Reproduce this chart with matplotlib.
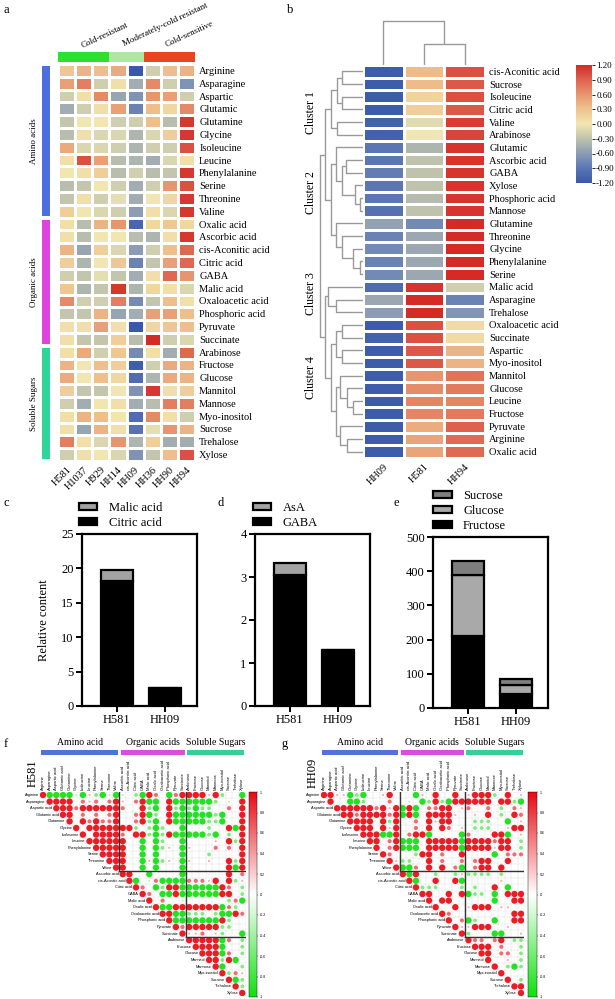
import numpy as np
import matplotlib
matplotlib.use('Agg')
import matplotlib.pyplot as plt
from matplotlib.colors import LinearSegmentedColormap, Normalize
from matplotlib.patches import Patch
import matplotlib.cm as cm

plt.rcParams['font.family'] = ['Liberation Serif', 'DejaVu Serif']

# ---------------- DATA ----------------
a_samples = ['H581', 'H1037', 'H929', 'HH14', 'HH09', 'HH36', 'HH90', 'HH94']
a_groups = ['Cold-resistant'] * 3 + ['Moderately-cold resistant'] * 2 + ['Cold-sensitive'] * 3
a_metabolites = ['Arginine', 'Asparagine', 'Aspartic', 'Glutamic', 'Glutamine', 'Glycine', 'Isoleucine',
                 'Leucine', 'Phenylalanine', 'Serine', 'Threonine', 'Valine', 'Oxalic acid', 'Ascorbic acid',
                 'cis-Aconitic acid', 'Citric acid', 'GABA', 'Malic acid', 'Oxaloacetic acid', 'Phosphoric acid',
                 'Pyruvate', 'Succinate', 'Arabinose', 'Fructose', 'Glucose', 'Mannitol', 'Mannose',
                 'Myo-inositol', 'Sucrose', 'Trehalose', 'Xylose']
a_classes = ['Amino acids'] * 12 + ['Organic acids'] * 10 + ['Soluble Sugars'] * 9
a_values = [
    [0.4, 0.6, 0.5, 0.7, -1.8, -0.3, 0.5, 0.6],
    [0.8, 1.1, -0.3, 0.1, -0.7, 1.0, -0.3, -1.0],
    [-0.3, 0.1, 1.0, -0.8, -1.0, 0.9, 0.8, -0.3],
    [-0.7, -0.3, 0.1, 0.8, -1.2, 0.5, 0.2, 1.0],
    [-0.4, 0.0, 0.0, -0.3, -0.3, 0.5, -0.5, 1.7],
    [-0.5, 0.1, -0.2, -0.2, -0.6, -0.2, 0.3, 1.7],
    [0.7, -0.2, -0.2, -0.3, -0.6, -0.3, -0.3, 1.5],
    [0.1, 1.5, 0.8, -0.5, -0.6, -0.7, -0.2, 0.1],
    [0.0, 0.1, 0.3, -0.5, -0.3, -0.5, -0.4, 1.7],
    [-0.5, -0.4, 0.0, -0.3, -0.7, -0.3, 0.9, 1.5],
    [-0.4, 0.1, -0.3, -0.1, -0.7, 0.0, 0.2, 1.7],
    [0.3, 0.0, -0.2, -0.3, -0.9, 0.1, -0.2, 1.7],
    [0.1, -0.5, 0.6, 0.9, -1.6, 0.2, 0.4, 0.2],
    [0.1, -0.5, 0.0, 0.0, -0.5, -0.6, 0.1, 1.7],
    [0.6, -0.8, 0.3, -0.2, -0.9, -0.3, 0.5, 1.3],
    [0.3, -0.6, 0.0, 0.4, -1.2, -0.4, 0.8, 1.3],
    [-0.3, -0.4, -0.1, -0.4, -0.7, 0.1, 1.3, 0.9],
    [0.4, -0.6, -0.4, 1.7, -0.6, 0.2, 0.1, -0.2],
    [1.0, -0.3, -0.3, 1.1, -1.1, -0.4, 0.5, 0.1],
    [-0.4, -0.4, 0.6, -0.8, -0.7, 0.8, 0.8, 0.5],
    [0.1, 0.1, 0.8, 0.1, -1.8, 0.2, 0.4, 0.5],
    [0.1, -0.4, -0.4, 0.3, -0.5, 1.8, -0.3, -0.2],
    [0.1, 0.7, -0.3, 0.4, -1.1, 0.1, -0.7, 1.3],
    [0.6, 0.0, 0.5, 0.3, -1.7, -0.3, 0.7, 0.6],
    [0.7, 0.0, 0.5, 0.2, -1.5, -0.6, 0.7, 0.6],
    [0.3, -0.4, -0.4, 0.0, -1.0, 1.7, 0.1, 0.3],
    [-0.3, -0.7, 0.0, 0.1, -0.7, -0.5, 1.1, 1.1],
    [0.1, 0.6, 0.5, 0.0, -1.5, 1.0, 0.1, -0.3],
    [0.1, -0.8, 0.6, 0.1, -1.4, -0.1, 0.9, 0.6],
    [1.1, 0.1, -0.2, 0.9, -0.6, 0.3, -0.7, -0.7],
    [-0.3, 0.1, 0.0, -0.2, -1.0, -0.4, 0.5, 1.5],
]

b_samples = ['HH09', 'H581', 'HH94']
b_metabolites = ['cis-Aconitic acid', 'Sucrose', 'Isoleucine', 'Citric acid', 'Valine', 'Arabinose',
                 'Glutamic', 'Ascorbic acid', 'GABA', 'Xylose', 'Phosphoric acid', 'Mannose',
                 'Glutamine', 'Threonine', 'Glycine', 'Phenylalanine', 'Serine',
                 'Malic acid', 'Asparagine', 'Trehalose',
                 'Oxaloacetic acid', 'Succinate', 'Aspartic', 'Myo-inositol', 'Mannitol', 'Glucose',
                 'Leucine', 'Fructose', 'Pyruvate', 'Arginine', 'Oxalic acid']
b_values = [
    [-1.15, 0.35, 1.0], [-1.15, 0.35, 0.95], [-1.15, 0.15, 1.0], [-1.15, 0.2, 0.95],
    [-1.1, -0.1, 1.1], [-1.1, 0.0, 1.05],
    [-0.9, -0.4, 1.15], [-0.9, -0.3, 1.15], [-0.85, -0.3, 1.15], [-0.9, -0.3, 1.15],
    [-0.9, -0.35, 1.15], [-0.95, -0.3, 1.15],
    [-0.55, -0.75, 1.2], [-0.8, -0.5, 1.2], [-0.75, -0.5, 1.2], [-0.8, -0.5, 1.2], [-0.75, -0.5, 1.2],
    [-1.0, 1.15, -0.2], [-0.5, 1.2, -0.8], [-0.6, 1.2, -0.65],
    [-1.15, 1.0, 0.1], [-1.1, 1.0, 0.1], [-1.15, 0.95, 0.4], [-1.15, 0.95, 0.4],
    [-1.15, 0.6, 0.8], [-1.15, 0.65, 0.75], [-1.15, 0.7, 0.7], [-1.15, 0.7, 0.75],
    [-1.15, 0.45, 0.9], [-1.15, 0.5, 0.85], [-1.15, 0.5, 0.85],
]
b_clusters = ['Cluster 1', 'Cluster 2', 'Cluster 3', 'Cluster 4']
# hierarchical trees: (merge height, left, right)
b_row_tree = (41,
    (36,
        (31, (25, (20, 'cis-Aconitic acid', 'Sucrose'), (20, 'Isoleucine', 'Citric acid')),
             (25, 'Valine', 'Arabinose')),
        (31, (26, 'Glutamic', (20, (16, 'Ascorbic acid', 'GABA'),
                                   (8, 'Xylose', (3, 'Phosphoric acid', 'Mannose')))),
             (26, 'Glutamine', (20, 'Threonine', (10, 'Glycine', (3, 'Phenylalanine', 'Serine')))))),
    (36,
        (33, 'Malic acid', (26, 'Asparagine', 'Trehalose')),
        (31, (26, (20, 'Oxaloacetic acid', 'Succinate'), (20, 'Aspartic', 'Myo-inositol')),
             (26, (22, 'Mannitol', (15, 'Glucose', (10, 'Leucine', 'Fructose'))),
                  (22, 'Pyruvate', (15, 'Arginine', 'Oxalic acid'))))))
b_col_tree = (42, 'HH09', (20, 'H581', 'HH94'))

bar_samples = ['H581', 'HH09']
citric_acid = [18.2, 2.6]
malic_acid = [1.6, 0.0]
gaba = [3.05, 1.3]
asa = [0.27, 0.0]
fructose = [210, 40]
glucose = [178, 27]
sucrose = [42, 17]

corr_labels = ['Arginine', 'Asparagine', 'Aspartic acid', 'Glutamic acid', 'Glutamine', 'Glycine',
               'Isoleucine', 'Leucine', 'Phenylalanine', 'Serine', 'Threonine', 'Valine',
               'Ascorbic acid', 'cis-Aconitic acid', 'Citric acid', 'GABA', 'Malic acid', 'Oxalic acid',
               'Oxaloacetic acid', 'Phosphoric acid', 'Pyruvate', 'Succinate',
               'Arabinose', 'Fructose', 'Glucose', 'Mannitol', 'Mannose', 'Myo-inositol', 'Sucrose',
               'Trehalose', 'Xylose']
corr_groups = [('Amino acid', 12), ('Organic acids', 10), ('Soluble Sugars', 9)]
# approximate correlation levels read from the circles (upper triangle, row by row)
corr_levels = {'R': 0.92, 'r': 0.6, 'p': 0.32, '.': 0.1, 'q': -0.3, 'g': -0.55, 'G': -0.92}
h581_rows = [
    "RGGGGqGpgGqG|q.gGRr.GrR|RRRpRg..G", "RRRR.rpr.rR|p.rRGG.RGG|GGGGg.q.R",
    "RRRrRRRRRR|r..RgG.RgG|gGgg..r.R", "RR.r.r.rR|..rRGg.RGG|GGGGgG..R",
    "R.RrRrrR|..rRgG.RGG|GGGggG..R", "R.RRRRR|RRg.gGg..G|...g..RGR",
    "R.RRRR|r.RRgGgRGG|GGGgG.g.R", "RRRRR|R..G.Gg..G|....p.RgR",
    "RRRR|R..G.Ggp.G|p...r.r.R", "RRR|R..G.G...G|...g....R",
    "RR|R..GpGgp.G|p..p..RgR", "R|R..G.G...G|......RGR",
    "RR..G....G|......R.r", "RG.qrGGGG|rrrpR.Rgp", "Rr.GgRRG|GGGGGRr.g",
    "Rr.GGRG|GGGGGRR.g", "R.r..q|......grG", "RGGRR|RRRRRGrg.", "RRGG|ggg.gGGRr",
    "RGG|GGGGGRg..", "Rr|RRRRRgg..", "R|ppr.pg..G", "RRRRRGr.g", "RRRRG..g", "RRRGr.g",
    "RRgRG.", "RG..g", "Rgrp", "RGg", "Rg", "R",
]
hh09_rows = [
    "RRppGgG..pR.|..Gp.R..R.|pRRRg.R.p", "R..GGg...r.|.q.GgRgGRR|RRRR.RRgG",
    "RRRRRRrRpR|GRG.rrRR.p|r..r.g.rp", "RRrRRRRrR|GRG.RRRRp.|.p.R.g.Rr",
    "RRRR.RgR|..r.RpRR..|.ggg..G.p", "RRR.RpR|..r.R.Rr.p|.ggg..pRR",
    "RRRGGR|.rRRG....G|r...RRG.p", "RR.rR|GGG.RRRRRG|RRRRrRR.g",
    "R.rR|GGG.RRRRRG|RRRRpRR.g", "Rr.|..gRR.r..R|....G.rrr",
    "Rp|gg..R.r..r|.rRR..R..", "R|GGr.R.R.rG|.rRR.R...",
    "RGR..g..gp|gggg.g...", "RG..R..RG|.....p...", "Rggg...g|.g..R.G..",
    "RR..R.R|Ggg.G.RRR", "R.RR..|....G..RR", "R..R.|pRRR.pp..", "Rr..|.......RR",
    "R.r|Gg..G..RR", "Rp|pRRR..p..", "R|g...GG..p", "Rrr.rR.gg", "RRR.r..g", "RR.rr.g",
    "R..p.g", "R.gGg", "R...", "R.g", "RR", "R",
]

# ---------------- FIGURE ----------------
W, H = 615, 999
fig = plt.figure(figsize=(W / 100, H / 100), dpi=100)


def px_axes(l, t, r, b):
    return fig.add_axes([l / W, 1 - b / H, (r - l) / W, (b - t) / H])


def ftext(x, y, s, **kw):
    return fig.text(x / W, 1 - y / H, s, **kw)


heat_cmap = LinearSegmentedColormap.from_list(
    'heat', ['#3858A8', '#5B77B4', '#8B9CB4', '#BEC2AD', '#F1E6B1', '#EFC38E', '#E79670', '#DE634E', '#D42B26'])


def runs(seq):
    out = []
    start = 0
    for i in range(1, len(seq) + 1):
        if i == len(seq) or seq[i] != seq[start]:
            out.append((seq[start], start, i - start))
            start = i
    return out


# ---- panel a ----
A = np.array(a_values)
nr, nc = A.shape
axa = px_axes(58, 64, 195, 461)
axa.pcolormesh(np.arange(nc + 1) - 0.5, np.arange(nr + 1) - 0.5, A, cmap=heat_cmap,
               norm=Normalize(-1.8, 1.8), edgecolors='white', linewidth=0.8)
axa.set_xlim(-0.5, nc - 0.5)
axa.set_ylim(nr - 0.5, -0.5)
axa.yaxis.tick_right()
axa.set_yticks(range(nr))
axa.set_yticklabels(a_metabolites, fontsize=7.5)
axa.set_xticks(range(nc))
axa.set_xticklabels(a_samples, fontsize=7.5, rotation=45, ha='right', va='top', rotation_mode='anchor')
axa.tick_params(length=0, pad=3)
for s in axa.spines.values():
    s.set_visible(False)

group_colors = {'Cold-resistant': '#2EE02E', 'Moderately-cold resistant': '#AEE6A4', 'Cold-sensitive': '#E8461E'}
axg = px_axes(58, 52, 195, 62)
for g, st, n in runs(a_groups):
    axg.bar(st + n / 2 - 0.5, 1, width=n, color=group_colors[g], linewidth=0)
axg.set_xlim(-0.5, nc - 0.5)
axg.set_ylim(0, 1)
axg.axis('off')
group_text_pos = {'Cold-resistant': (83, 50), 'Moderately-cold resistant': (125, 48), 'Cold-sensitive': (167, 49)}
for g, st, n in runs(a_groups):
    x, y = group_text_pos[g]
    ftext(x, y, g, fontsize=6.5, rotation=25, ha='left', va='bottom', rotation_mode='anchor')

class_colors = {'Amino acids': '#4D6EE0', 'Organic acids': '#DD44E0', 'Soluble Sugars': '#2ED69A'}
axcl = px_axes(42, 64, 50, 461)
for c, st, n in runs(a_classes):
    axcl.bar(0, n - 0.3, bottom=st - 0.35, width=1, color=class_colors[c], linewidth=0)
    axcl.text(-1.5, st + n / 2 - 0.5, c, rotation=90, ha='center', va='center', fontsize=6.5)
axcl.set_xlim(-0.5, 0.5)
axcl.set_ylim(nr - 0.5, -0.5)
axcl.axis('off')

ftext(3, 10, 'a', fontsize=9, va='center')

# ---- panel b ----
B = np.array(b_values)
brn, bcn = B.shape
axb = px_axes(363, 65, 485, 458)
bnorm = Normalize(-1.2, 1.2)
axb.pcolormesh(np.arange(bcn + 1) - 0.5, np.arange(brn + 1) - 0.5, B, cmap=heat_cmap, norm=bnorm,
               edgecolors='white', linewidth=0.8)
axb.set_xlim(-0.5, bcn - 0.5)
axb.set_ylim(brn - 0.5, -0.5)
axb.yaxis.tick_right()
axb.set_yticks(range(brn))
axb.set_yticklabels(b_metabolites, fontsize=7.5)
axb.set_xticks(range(bcn))
axb.set_xticklabels(b_samples, fontsize=7.5, rotation=45, ha='right', va='top', rotation_mode='anchor')
axb.tick_params(length=0, pad=3)
for s in axb.spines.values():
    s.set_visible(False)


def dendro_segments(tree, leaf_pos):
    segs = []

    def rec(node):
        if not isinstance(node, tuple):
            return leaf_pos[node], 0.0
        h, l, r = node
        pl, hl = rec(l)
        pr, hr = rec(r)
        segs.append(([pl, pl, pr, pr], [hl, h, h, hr]))
        return (pl + pr) / 2, h

    rec(tree)
    return segs


axrd = px_axes(318, 65, 363, 458)
for pos, hts in dendro_segments(b_row_tree, {m: i for i, m in enumerate(b_metabolites)}):
    axrd.plot(hts, pos, color='#9A9A9A', lw=1.0, solid_capstyle='butt')
axrd.set_xlim(43, 0)
axrd.set_ylim(brn - 0.5, -0.5)
axrd.axis('off')

axcd = px_axes(363, 18, 485, 65)
for pos, hts in dendro_segments(b_col_tree, {m: i for i, m in enumerate(b_samples)}):
    axcd.plot(pos, hts, color='#9A9A9A', lw=1.0, solid_capstyle='butt')
axcd.set_xlim(-0.5, bcn - 0.5)
axcd.set_ylim(0, 45)
axcd.axis('off')

cluster_label_y = [113, 193, 294, 378]
for name, y in zip(b_clusters, cluster_label_y):
    ftext(311, y, name, rotation=90, ha='center', va='center', fontsize=8.5)

caxb = px_axes(576, 65, 592, 183)
cbb = fig.colorbar(cm.ScalarMappable(norm=bnorm, cmap=heat_cmap), cax=caxb,
                   ticks=np.round(np.arange(-1.2, 1.21, 0.3), 2))
cbb.set_ticklabels([f'{v:.2f}' for v in np.round(np.arange(-1.2, 1.21, 0.3), 2)])
cbb.outline.set_visible(False)
caxb.tick_params(labelsize=6.5, length=2, width=0.6, pad=1)

ftext(287, 10, 'b', fontsize=9, va='center')

# ---- panels c, d, e ----
seg_edge = dict(edgecolor='black', linewidth=1.6)


def bar_panel(box, stacks, ylim, yticks, legend_x, ylabel=None):
    ax = px_axes(*box)
    x = np.arange(len(bar_samples))
    bottom = np.zeros(len(bar_samples))
    handles = []
    for vals, color, label in stacks:
        ax.bar(x, vals, bottom=bottom, width=0.66, color=color, **seg_edge)
        bottom = bottom + np.array(vals)
        handles.append((Patch(facecolor=color, **seg_edge), label))
    ax.set_xlim(-0.72, 1.66)
    ax.set_ylim(*ylim)
    ax.set_yticks(yticks)
    ax.set_xticks(x)
    ax.set_xticklabels(bar_samples)
    for s in ax.spines.values():
        s.set_linewidth(1.6)
    ax.tick_params(direction='out', length=4, width=1.4, labelsize=9, pad=2)
    if ylabel:
        ax.set_ylabel(ylabel, fontsize=9, labelpad=8)
    hs = handles[::-1]
    ax.legend([h for h, _ in hs], [l for _, l in hs], loc='lower left', bbox_to_anchor=(legend_x, 1.03),
              frameon=False, handlelength=1.5, handleheight=0.5, handletextpad=0.9, labelspacing=0.25,
              borderaxespad=0, borderpad=0, fontsize=9)
    return ax


bar_panel((82, 534, 197, 706), [(citric_acid, 'black', 'Citric acid'), (malic_acid, '#A3A3A3', 'Malic acid')],
          (0, 25), [0, 5, 10, 15, 20, 25], -0.03, ylabel='Relative content')
bar_panel((255, 534, 370, 706), [(gaba, 'black', 'GABA'), (asa, '#A3A3A3', 'AsA')],
          (0, 4), [0, 1, 2, 3, 4], -0.02)
bar_panel((433, 537, 548, 708), [(fructose, 'black', 'Fructose'), (glucose, '#A9A9A9', 'Glucose'),
                                 (sucrose, '#7E7E7E', 'Sucrose')],
          (0, 500), [0, 100, 200, 300, 400, 500], 0.0)
ftext(3, 503, 'c', fontsize=9, va='center')
ftext(218, 503, 'd', fontsize=9, va='center')
ftext(394, 503, 'e', fontsize=9, va='center')

# ---- panels f, g ----
corr_cmap = LinearSegmentedColormap.from_list('corr', ['#10E010', '#FFFFFF', '#E80A14'])
cnorm = Normalize(-1, 1)
header_colors = ['#4F73D9', '#D64FD6', '#33D199']
nlab = len(corr_labels)


def build_matrix(rows):
    M = np.full((nlab, nlab), np.nan)
    for i, r in enumerate(rows):
        codes = r.replace('|', '')
        assert len(codes) == nlab - i, (i, len(codes))
        for k, ch in enumerate(codes):
            M[i, i + k] = corr_levels[ch]
    return M


def corr_panel(rows, left, right, cbar_l, cbar_r, name, name_x, letter, letter_x):
    top, bottom = 791.7, 996.3
    M = build_matrix(rows)
    ax = px_axes(left, top, right, bottom)
    # grid
    for k in range(nlab + 1):
        ax.plot([max(k - 1, 0) - 0.5, nlab - 0.5], [k - 0.5, k - 0.5], color='#DADADA', lw=0.3, zorder=1)
        ax.plot([k - 0.5, k - 0.5], [-0.5, min(k, nlab - 1) + 0.5], color='#DADADA', lw=0.3, zorder=1)
    ii, jj = np.nonzero(~np.isnan(M))
    vals = M[ii, jj]
    ax.scatter(jj, ii, s=(5.0 * np.abs(vals)) ** 2, c=vals, cmap=corr_cmap, norm=cnorm, linewidths=0, zorder=2)
    # partition lines from group sizes
    edge = 0
    for gname, n in corr_groups[:-1]:
        edge += n
        b = edge - 0.5
        ax.plot([b, b], [-0.5, b], color='#333333', lw=1.0, zorder=3)
        ax.plot([b, nlab - 0.5], [b, b], color='#333333', lw=1.0, zorder=3)
    for i, lab in enumerate(corr_labels):
        ax.text(i - 0.6, i, lab, ha='right', va='center', fontsize=2.8, family='Liberation Sans')
        ax.text(i, -0.7, lab, ha='center', va='bottom', rotation=90, fontsize=3.0, family='Liberation Sans')
    ax.set_xlim(-0.5, nlab - 0.5)
    ax.set_ylim(nlab - 0.5, -0.5)
    ax.axis('off')
    # header bars
    axh = px_axes(left, 750, right, 755)
    st = 0
    for (gname, n), col in zip(corr_groups, header_colors):
        axh.bar(st + n / 2 - 0.5, 1, width=n - 0.35, color=col, linewidth=0)
        axh.text(st + n / 2 - 0.5, 1.6, gname, ha='center', va='bottom', fontsize=7)
        st += n
    axh.set_xlim(-0.5, nlab - 0.5)
    axh.set_ylim(0, 1)
    axh.axis('off')
    # colorbar
    cax = px_axes(cbar_l, 792, cbar_r, 997)
    ticks = np.round(np.arange(-1, 1.01, 0.2), 1)
    cb = fig.colorbar(cm.ScalarMappable(norm=cnorm, cmap=corr_cmap), cax=cax, ticks=ticks)
    cb.set_ticklabels([('%g' % t) for t in ticks])
    cb.outline.set_linewidth(0.3)
    cax.tick_params(labelsize=2.6, length=1, width=0.3, pad=1)
    for t in cax.get_yticklabels():
        t.set_family('Liberation Sans')
    ftext(name_x, 773, name, rotation=90, ha='center', va='center', fontsize=9)
    ftext(letter_x, 744, letter, fontsize=9, va='center')


corr_panel(h581_rows, 39.7, 245.6, 249, 257, 'H581', 33, 'f', 4)
corr_panel(hh09_rows, 320.7, 524.3, 528, 537, 'HH09', 313, 'g', 281)

fig.savefig('out.png', dpi=100)
